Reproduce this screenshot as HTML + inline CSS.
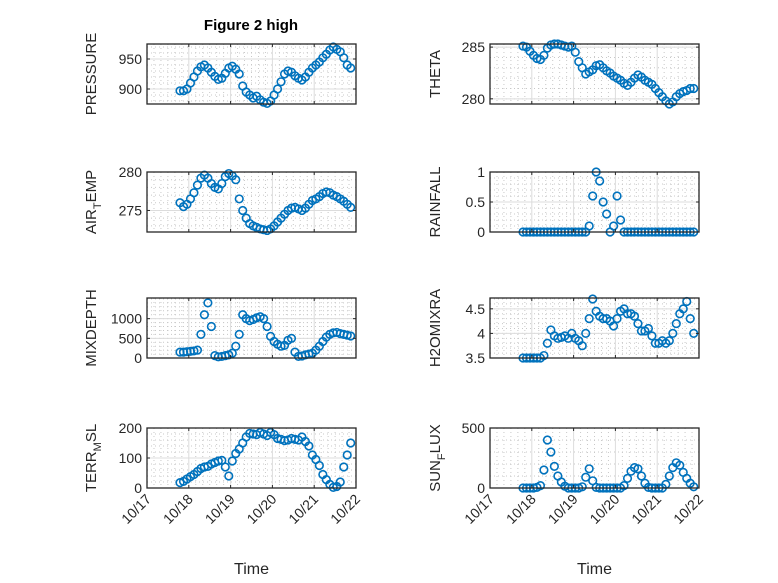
<!DOCTYPE html>
<html><head><meta charset="utf-8"><style>
body{margin:0;background:#fff}
svg{display:block;font-family:"Liberation Sans","DejaVu Sans",sans-serif}
</style></head><body>
<svg id="fig" width="778" height="583" viewBox="0 0 778 583" xmlns="http://www.w3.org/2000/svg">
<rect width="778" height="583" fill="#fff"/>
<text x="251" y="30" text-anchor="middle" font-size="15" font-weight="bold" fill="#000">Figure 2 high</text>
</svg>
<script>
const tStart = 0.79, tStep = 1/12;
const xTicks = [0,1,2,3,4,5];
const xTickLabels = ["10/17","10/18","10/19","10/20","10/21","10/22"];
const pressure = [897,897,900,910,920,930,937,940,935,928,921,916,918,926,935,938,933,925,905,895,890,885,888,882,878,876,880,890,900,912,925,930,928,922,918,915,920,928,935,940,945,952,958,965,970,966,962,952,940,935];
const theta = [285.1,285.0,284.6,284.2,283.9,283.8,284.2,284.9,285.2,285.3,285.3,285.2,285.1,285.0,285.1,284.5,283.6,283.0,282.4,282.6,282.8,283.2,283.3,283.0,282.7,282.5,282.2,282.0,281.8,281.5,281.3,281.6,282.0,282.3,282.1,281.8,281.6,281.4,281.0,280.6,280.2,279.8,279.5,279.7,280.2,280.5,280.7,280.8,281.0,281.0];
const airTemp = [276.0,275.5,275.8,276.5,277.3,278.3,279.2,279.6,279.2,278.5,278.0,277.8,278.5,279.4,279.8,279.5,279.0,276.5,275.0,274.0,273.3,273.0,272.8,272.6,272.5,272.4,272.6,273.0,273.5,274.0,274.5,275.0,275.3,275.4,275.2,275.0,275.3,275.8,276.3,276.5,276.8,277.2,277.4,277.3,277.0,276.8,276.5,276.2,275.8,275.4];
const rainfall = [0,0,0,0,0,0,0,0,0,0,0,0,0,0,0,0,0,0,0,0.1,0.6,1.0,0.85,0.5,0.3,0,0.1,0.6,0.2,0,0,0,0,0,0,0,0,0,0,0,0,0,0,0,0,0,0,0,0,0];
const mixDepth = [150,150,160,170,180,200,600,1100,1400,800,60,30,40,60,80,120,300,600,1100,1000,950,980,1020,1050,1000,800,550,420,350,300,320,450,500,150,40,50,80,100,120,200,300,420,530,600,640,650,620,600,580,560];
const h2oMix = [3.5,3.5,3.5,3.5,3.5,3.5,3.55,3.8,4.07,3.95,3.9,3.92,3.95,3.9,4.0,3.9,3.85,3.75,4.0,4.3,4.7,4.45,4.35,4.3,4.3,4.25,4.15,4.3,4.45,4.5,4.4,4.4,4.35,4.2,4.05,4.05,4.1,3.95,3.8,3.8,3.85,3.8,3.85,4.0,4.2,4.4,4.5,4.65,4.3,4.0];
const terrMsl = [18,22,30,38,45,55,65,70,72,80,85,90,92,70,40,90,115,130,150,170,182,180,178,185,180,175,185,178,165,162,158,160,165,162,160,170,155,140,110,95,75,45,28,12,2,5,20,70,110,150];
const sunFlux = [0,0,0,0,5,20,150,400,300,180,100,50,15,0,0,0,0,10,90,160,60,5,0,0,0,0,0,0,0,20,80,140,170,160,100,40,5,0,0,0,0,30,100,170,210,190,130,80,40,10];
const pressureTicks=[900,950], thetaTicks=[280,285], airTicks=[275,280], rainTicks=[0,0.5,1], mixTicks=[0,500,1000], h2oTicks=[3.5,4,4.5], terrTicks=[0,100,200], sunTicks=[0,500];

const NS="http://www.w3.org/2000/svg";
const svg=document.getElementById('fig');
function mk(tag,attrs,parent){const e=document.createElementNS(NS,tag);for(const k in attrs)e.setAttribute(k,attrs[k]);(parent||svg).appendChild(e);return e;}

const panels=[
 {name:'pressure',x0:147,y0:44,label:['PRESSURE'],data:pressure,ylim:[875,975],ticks:pressureTicks,minor:10,lx:96},
 {name:'theta',x0:490,y0:44,label:['THETA'],data:theta,ylim:[279.5,285.3],ticks:thetaTicks,minor:1,lx:440},
 {name:'air-temp',x0:147,y0:172,label:['AIR','T','EMP'],data:airTemp,ylim:[272.2,280],ticks:airTicks,minor:1,lx:96},
 {name:'rainfall',x0:490,y0:172,label:['RAINFALL'],data:rainfall,ylim:[0,1],ticks:rainTicks,minor:0.1,lx:440},
 {name:'mixdepth',x0:147,y0:298,label:['MIXDEPTH'],data:mixDepth,ylim:[0,1525],ticks:mixTicks,minor:100,lx:96},
 {name:'h2omixra',x0:490,y0:298,label:['H2OMIXRA'],data:h2oMix,ylim:[3.5,4.72],ticks:h2oTicks,minor:0.1,lx:440},
 {name:'terr-msl',x0:147,y0:428,label:['TERR','M','SL'],data:terrMsl,ylim:[0,200],ticks:terrTicks,minor:20,lx:96},
 {name:'sun-flux',x0:490,y0:428,label:['SUN','F','LUX'],data:sunFlux,ylim:[0,500],ticks:sunTicks,minor:100,lx:440}
];
const W=209,H=60;

panels.forEach((p,pi)=>{
 const g=mk('g',{});
 
 
 const xs=d=>p.x0+d/5*W;
 const ys=v=>p.y0+H-(v-p.ylim[0])/(p.ylim[1]-p.ylim[0])*H;
 for(let d=0;d<5;d+=1/6){const x=xs(d);if(Math.abs(d-Math.round(d))<1e-6)continue;
  mk('line',{x1:x,x2:x,y1:p.y0,y2:p.y0+H,stroke:'#c8c8c8','stroke-width':1,'stroke-dasharray':'1,3'},g);}
 for(let v=Math.ceil(p.ylim[0]/p.minor)*p.minor;v<p.ylim[1];v+=p.minor){
  const y=ys(v);mk('line',{x1:p.x0,x2:p.x0+W,y1:y,y2:y,stroke:'#c8c8c8','stroke-width':1,'stroke-dasharray':'1,3'},g);}
 xTicks.forEach(d=>{const x=xs(d);mk('line',{x1:x,x2:x,y1:p.y0,y2:p.y0+H,stroke:'#dcdcdc','stroke-width':1},g);});
 p.ticks.forEach(v=>{const y=ys(v);mk('line',{x1:p.x0,x2:p.x0+W,y1:y,y2:y,stroke:'#dcdcdc','stroke-width':1},g);});
 const sg=mk('g',{},g);
 
 
 p.data.forEach((v,i)=>{
  const c=mk('circle',{cx:xs(tStart+i*tStep),cy:ys(v),r:3.8,fill:'none',stroke:'#0072BD','stroke-width':1.6},sg);
  
  
 });
 mk('rect',{x:p.x0,y:p.y0,width:W,height:H,fill:'none',stroke:'#262626','stroke-width':1.3},g);
 xTicks.forEach(d=>{const x=xs(d);
  mk('line',{x1:x,x2:x,y1:p.y0+H,y2:p.y0+H-3,stroke:'#262626'},g);
  mk('line',{x1:x,x2:x,y1:p.y0,y2:p.y0+3,stroke:'#262626'},g);});
 p.ticks.forEach(v=>{const y=ys(v);
  mk('line',{x1:p.x0,x2:p.x0+3,y1:y,y2:y,stroke:'#262626'},g);
  mk('line',{x1:p.x0+W,x2:p.x0+W-3,y1:y,y2:y,stroke:'#262626'},g);
  const t=mk('text',{x:p.x0-5,y:y+5,'text-anchor':'end','font-size':14,fill:'#262626'},g);
  t.textContent=String(v);
  
  });
 const lb=mk('text',{transform:`translate(${p.lx},${p.y0+H/2}) rotate(-90)`,'text-anchor':'middle','font-size':15,fill:'#262626'},g);
 
 
 if(p.label.length===1){lb.textContent=p.label[0];}
 else{
  const a=mk('tspan',{},lb);a.textContent=p.label[0];
  const b=mk('tspan',{dy:5,'font-size':11},lb);b.textContent=p.label[1];
  const c=mk('tspan',{dy:-5},lb);c.textContent=p.label[2];
 }
 if(pi>=6){
  xTicks.forEach((d,k)=>{const x=xs(d);
   const t=mk('text',{transform:`translate(${x+5},${p.y0+H+12}) rotate(-45)`,'text-anchor':'end','font-size':14,fill:'#262626'},g);
   t.textContent=xTickLabels[k];
   
   });
  const xl=mk('text',{x:p.x0+W/2,y:574,'text-anchor':'middle','font-size':16,fill:'#262626'},g);
  xl.textContent='Time';
  
  
 }
});
</script>
</body></html>
